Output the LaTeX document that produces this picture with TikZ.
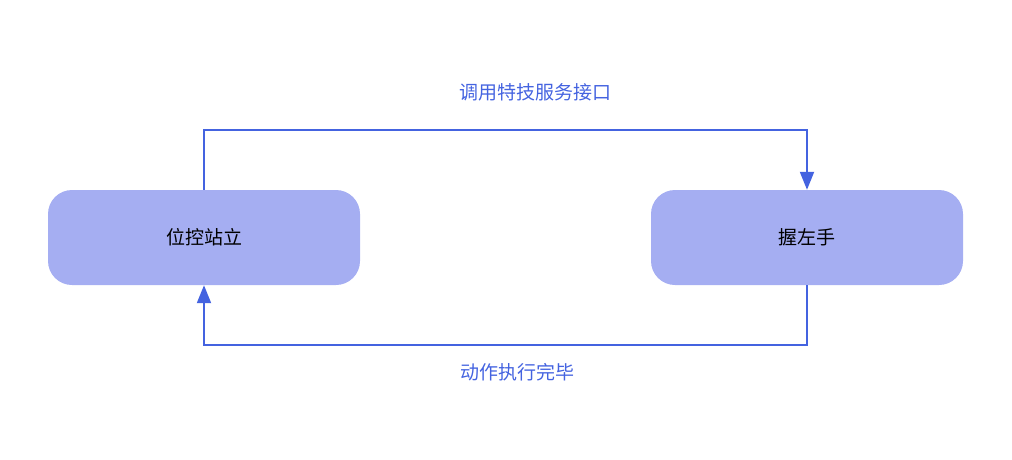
\documentclass[tikz,border=0pt]{standalone}
\usepackage{fontspec}
\setmainfont{Noto Sans CJK SC}
\usetikzlibrary{arrows.meta}
\definecolor{boxfill}{HTML}{A5AEF2}
\definecolor{linec}{HTML}{4463E0}
\tikzset{
  state/.style={fill=boxfill, rounded corners=24pt, minimum width=312pt, minimum height=95pt, font=\fontsize{19pt}{22pt}\selectfont, text=black},
  conn/.style={draw=linec, line width=2pt, -{Triangle[length=18pt,width=14pt]}},
  lbl/.style={text=linec, font=\fontsize{19pt}{22pt}\selectfont}
}
\begin{document}
\begin{tikzpicture}[x=1pt,y=-1pt]
\useasboundingbox (0,0) rectangle (1012,459);
\node[state] (a) at (204,237.5) {位控站立};
\node[state] (b) at (807,237.5) {握左手};
\coordinate (t1) at (204,130);
\coordinate (t2) at (807,130);
\coordinate (b1) at (807,345);
\coordinate (b2) at (204,345);
\draw[conn] (a.north) -- (t1) -- (t2) -- (b.north);
\draw[conn] (b.south) -- (b1) -- (b2) -- (a.south);
\node[lbl] (l1) at (535,92) {调用特技服务接口};
\node[lbl] (l2) at (517,372) {动作执行完毕};
\end{tikzpicture}
\end{document}
